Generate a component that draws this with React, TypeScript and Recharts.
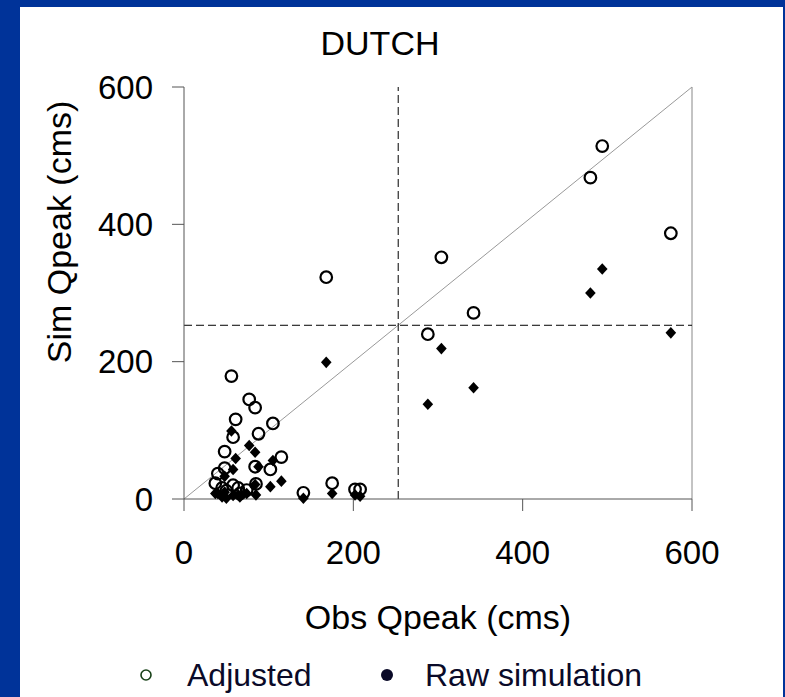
import React from 'react';
import {
  ScatterChart,
  Scatter,
  XAxis,
  YAxis,
  ReferenceLine,
  Label,
} from 'recharts';

// observed peak flow (cms) for each event
const obsQpeak = [
  168, 304, 342, 288, 480, 494, 575, 56, 77, 84, 61, 105, 88, 58, 48, 115,
  84, 85, 102, 48, 40, 37, 58, 66, 141, 175, 202, 208, 45, 64, 74, 50,
];
// simulated peaks after adjustment
const adjustedQpeak = [
  323, 352, 271, 240, 468, 514, 387, 179, 145, 133, 116, 110, 95, 90, 69, 61,
  47, 22, 43, 45, 37, 23, 20, 8, 9, 23, 14, 14, 16, 16, 13, 12,
];
// raw simulated peaks
const rawQpeak = [
  199, 219, 162, 138, 300, 335, 242, 99, 78, 68, 59, 56, 47, 43, 33, 26,
  21, 6, 18, 10, 8, 8, 5, 3, 1, 8, 6, 4, 3, 6, 8, 1,
];
const axisTicks = [0, 200, 400, 600];
const thresholdQ = 253;

const adjustedData = obsQpeak.map((obs, i) => ({ obs, sim: adjustedQpeak[i] }));
const rawData = obsQpeak.map((obs, i) => ({ obs, sim: rawQpeak[i] }));

const FONT = '"Liberation Sans", Arial, sans-serif';

const OpenCircle = ({ cx, cy }: any) => (
  <circle cx={cx} cy={cy} r={5.8} fill="none" stroke="#000" strokeWidth={2.2} />
);

const Diamond = ({ cx, cy }: any) => (
  <polygon
    points={`${cx},${cy - 5.8} ${cx + 5.3},${cy} ${cx},${cy + 5.8} ${cx - 5.3},${cy}`}
    fill="#000"
  />
);

export default function App() {
  return (
    <div
      style={{
        position: 'absolute',
        left: 0,
        top: 0,
        width: 785,
        height: 697,
        background: '#003399',
        fontFamily: FONT,
      }}
    >
      <div
        style={{
          position: 'absolute',
          left: 20,
          top: 7,
          width: 763,
          height: 690,
          background: '#fff',
        }}
      />
      <div
        style={{
          position: 'absolute',
          left: 0,
          top: 24,
          width: 760,
          textAlign: 'center',
          fontSize: 34,
          color: '#000',
        }}
      >
        DUTCH
      </div>

      <div style={{ position: 'absolute', left: 0, top: 0 }}>
        <ScatterChart
          width={785}
          height={697}
          margin={{ top: 87, right: 93, bottom: 0, left: 0 }}
        >
          <XAxis
            type="number"
            dataKey="obs"
            domain={[0, 600]}
            ticks={axisTicks}
            height={198}
            tickSize={12}
            tickMargin={30}
            stroke="#555"
            tick={{ fontSize: 33, fill: '#000', fontFamily: FONT }}
          >
            <Label
              content={() => (
                <text x={438} y={629} textAnchor="middle" fontSize={34} fontFamily={FONT} fill="#000">
                  Obs Qpeak (cms)
                </text>
              )}
            />
          </XAxis>
          <YAxis
            type="number"
            dataKey="sim"
            domain={[0, 600]}
            ticks={axisTicks}
            width={184}
            tickSize={12}
            tickMargin={19}
            stroke="#555"
            tick={{ fontSize: 33, fill: '#000', fontFamily: FONT }}
          >
            <Label
              content={() => (
                <text
                  x={71}
                  y={232}
                  transform="rotate(-90, 71, 232)"
                  textAnchor="middle"
                  fontSize={34}
                  fontFamily={FONT}
                  fill="#000"
                >
                  Sim Qpeak (cms)
                </text>
              )}
            />
          </YAxis>
          <ReferenceLine x={600} stroke="#888" />
          <ReferenceLine
            segment={[
              { x: 0, y: 0 },
              { x: 600, y: 600 },
            ]}
            stroke="#999"
          />
          <ReferenceLine x={thresholdQ} stroke="#000" strokeDasharray="8 4" />
          <ReferenceLine y={thresholdQ} stroke="#000" strokeDasharray="8 4" />
          <Scatter name="Adjusted" data={adjustedData} shape={OpenCircle} isAnimationActive={false} />
          <Scatter name="Raw simulation" data={rawData} shape={Diamond} isAnimationActive={false} />
        </ScatterChart>
      </div>

      <svg style={{ position: 'absolute', left: 0, top: 655 }} width={785} height={40}>
        <circle cx={146} cy={20} r={5} fill="none" stroke="#174017" strokeWidth={1.6} />
        <text x={187} y={31} fontSize={32} fontFamily={FONT} fill="#0a0a28">
          Adjusted
        </text>
        <circle cx={387} cy={20} r={6} fill="#0a0a28" />
        <text x={425} y={31} fontSize={32} fontFamily={FONT} fill="#0a0a28">
          Raw simulation
        </text>
      </svg>
    </div>
  );
}
